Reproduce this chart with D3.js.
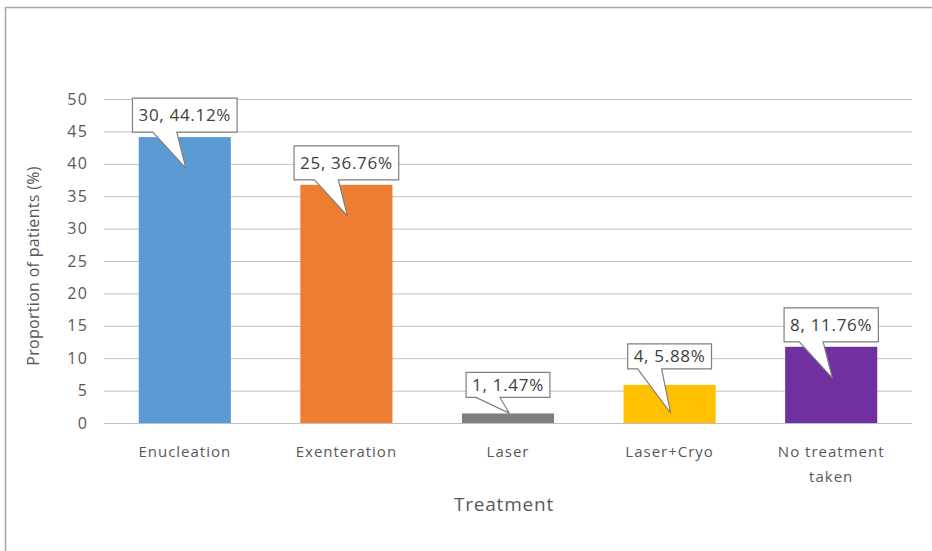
<!DOCTYPE html>
<html><head><meta charset="utf-8">
<script src="https://cdn.jsdelivr.net/npm/d3@7"></script>
<style>body{margin:0;background:#fff}svg{display:block}text{font-family:"Open Sans",sans-serif}</style>
</head><body><svg id="c" width="932" height="551"></svg>
<script>
const categories = ["Enucleation","Exenteration","Laser","Laser+Cryo","No treatment taken"];
const counts = [30,25,1,4,8];
const percents = [44.12,36.76,1.47,5.88,11.76];
const colors = ["#5b9bd5","#ed7d31","#7f7f7f","#ffc000","#7030a0"];
const yTicks = [0,5,10,15,20,25,30,35,40,45,50];

const svg = d3.select("#c");
svg.append("rect").attr("x",5.5).attr("y",7.5).attr("width",940).attr("height",560)
  .attr("fill","#fff").attr("stroke","#a6a6a6").attr("stroke-width",1.5);

const L=104,R=912,T=99,B=423;
const x = d3.scaleBand().domain(categories).range([L,R]).paddingInner(0.43).paddingOuter(0.215);
const y = d3.scaleLinear().domain([0,50]).range([B,T]);

const ya = svg.append("g").attr("transform",`translate(${L},0)`)
  .call(d3.axisLeft(y).tickValues(yTicks).tickSize(-(R-L)).tickPadding(16));
ya.select(".domain").remove();
ya.selectAll(".tick line").attr("stroke","#c0c0c0").attr("stroke-width",1);
ya.selectAll(".tick text").attr("fill","#595959").attr("font-size",16).attr("letter-spacing","1.2px");

const xa = svg.append("g").attr("transform",`translate(0,${B})`)
  .call(d3.axisBottom(x).tickSize(0).tickPadding(0));
xa.select(".domain").remove();
xa.selectAll(".tick text").attr("fill","#595959").attr("font-size",15).attr("letter-spacing","1px")
  .attr("dy",null).attr("y",34)
  .each(function(d){
    const t=d3.select(this);
    if(d==="No treatment taken"){
      t.text(null);
      t.append("tspan").attr("x",0).attr("y",34).text("No treatment");
      t.append("tspan").attr("x",0).attr("y",59).text("taken");
    }
  });

svg.selectAll("rect.bar").data(categories).join("rect").attr("class","bar")
  .attr("x",d=>x(d)).attr("width",x.bandwidth())
  .attr("y",(d,i)=>y(percents[i])).attr("height",(d,i)=>B-y(percents[i]))
  .attr("fill",(d,i)=>colors[i]);

// callouts
categories.forEach((c,i)=>{
  const cx = x(c)+x.bandwidth()/2;
  const top = y(percents[i]);
  const h = B-top;
  const label = `${counts[i]}, ${percents[i].toFixed(2)}%`;
  const g = svg.append("g");
  const txt = g.append("text").attr("font-size",17).attr("letter-spacing","0.7px").attr("fill","#404040").attr("text-anchor","middle").text(label);
  const w = txt.node().getComputedTextLength()+12;
  const bh = h>50?34:25;
  const bb = top-(h>50?5:16);
  const bt = bb-bh;
  const bl = cx-w/2, br = cx+w/2;
  const tipY = Math.min(top+31, B-10);
  const b1 = cx-32, b2 = cx-8;
  const path = `M${bl},${bt}H${br}V${bb}H${b2}L${cx+1},${tipY}L${b1},${bb}H${bl}Z`;
  g.insert("path","text").attr("d",path).attr("fill","#fff").attr("stroke","#7f7f7f").attr("stroke-width",1.2);
  txt.attr("x",cx).attr("y",(bt+bb)/2+6);
});

svg.append("text").attr("x",504).attr("y",511).attr("text-anchor","middle").attr("font-size",19).attr("letter-spacing","0.8px").attr("fill","#595959").text("Treatment");
svg.append("text").attr("transform","translate(39,266) rotate(-90)").attr("text-anchor","middle")
  .attr("font-size",16).attr("fill","#595959").attr("letter-spacing","0.3px").text("Proportion of patients (%)");
</script></body></html>
